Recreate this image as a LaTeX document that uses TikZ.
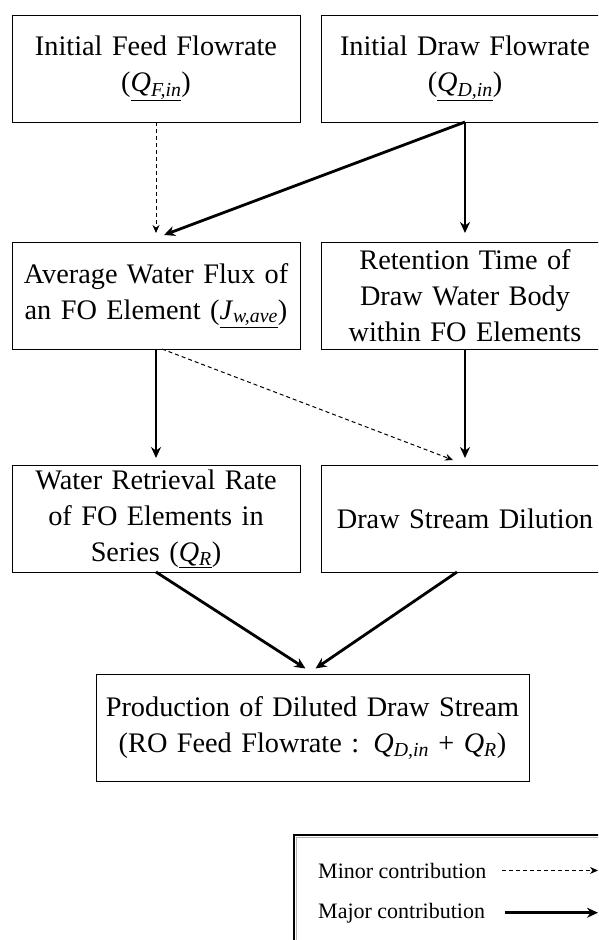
\documentclass[tikz,border=0pt]{standalone}
\usepackage{fontspec}
\setmainfont{Liberation Serif}
\usetikzlibrary{arrows.meta,positioning}

\newcommand{\flowvar}[2]{\underline{\textit{#1}\textsubscript{\textit{#2}}}}
\newcommand{\plainvar}[2]{\textit{#1}\textsubscript{\textit{#2}}}

\begin{document}
\begin{tikzpicture}[
  x=1pt,y=-1pt,
  node distance=21pt,
  box/.style={rectangle,draw,line width=1pt,text width=280pt,inner xsep=4pt,
              inner ysep=0pt,minimum height=107pt,align=center,outer sep=0pt,
              font=\fontsize{28.3}{36}\selectfont},
  majorarr/.style={-{Stealth[length=11pt,width=10pt]},line width=2.8pt},
  minorarr/.style={-{Stealth[length=8pt,width=7pt]},line width=1pt,
                   dash pattern=on 4pt off 3pt},
  legtext/.style={anchor=base west,inner sep=0pt,font=\fontsize{22}{26}\selectfont}
]
  \useasboundingbox (0,0) rectangle (598,940);
  \clip (0,0) rectangle (598,940);

  \node[box] (feed) at (156,68.5) {Initial Feed Flowrate\\(\flowvar{Q}{F,in})};
  \node[box,right=of feed] (draw) {Initial Draw Flowrate\\(\flowvar{Q}{D,in})};
  \node[box,below=120pt of feed] (flux) {Average Water Flux of\\an FO Element (\flowvar{J}{w,ave})};
  \node[box,right=of flux] (retention) {Retention Time of\\Draw Water Body\\within FO Elements};
  \node[box,below=116pt of flux] (retrieval) {Water Retrieval Rate\\of FO Elements in\\Series (\flowvar{Q}{R})};
  \node[box,right=of retrieval] (dilution) {Draw Stream Dilution};
  \node[box,text width=425pt] (production) at (312.5,728)
       {Production of Diluted Draw Stream\\(RO Feed Flowrate : \plainvar{Q}{D,in} + \plainvar{Q}{R})};

  \draw[minorarr] (feed.south) -- ([yshift=9pt]flux.north);
  \draw[majorarr] (draw.south) -- ([xshift=8pt,yshift=7pt]flux.north);
  \draw[majorarr] (draw.south) -- ([yshift=9pt]retention.north);
  \draw[majorarr] (flux.south) -- ([yshift=7pt]retrieval.north);
  \draw[majorarr] (retention.south) -- ([yshift=7pt]dilution.north);
  \draw[minorarr] ([xshift=6pt]flux.south) -- ([xshift=-12pt,yshift=5pt]dilution.north);
  \draw[majorarr] (retrieval.south) -- ([xshift=-7pt,yshift=6pt]production.north);
  \draw[majorarr] ([xshift=-8pt]dilution.south) -- ([xshift=3pt,yshift=6pt]production.north);

  % legend
  \draw[line width=2pt] (294,835) rectangle (640,980);
  \draw[gray!60,line width=1pt] (296.5,837.5) rectangle (640,980);
  \node[legtext] (minorlab) at (318,878) {Minor contribution};
  \node[legtext] (majorlab) at (318,918) {Major contribution};
  \coordinate (legend end) at (598,872);
  \draw[minorarr] ([xshift=16pt]minorlab.east) -- (legend end |- minorlab.east);
  \draw[majorarr] ([xshift=20pt]majorlab.east) -- (legend end |- majorlab.east);
\end{tikzpicture}
\end{document}
